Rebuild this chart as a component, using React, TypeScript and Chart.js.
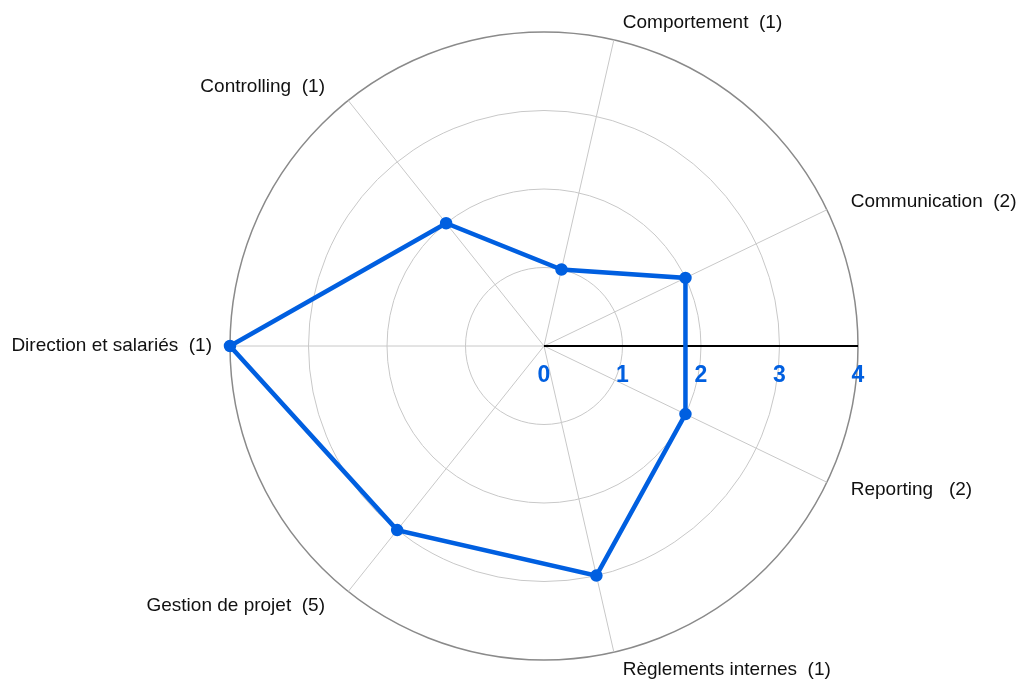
import React, { useEffect, useRef } from "react";
import { Chart, registerables } from "chart.js";

Chart.register(...registerables);

const categories = [
  "Direction et salariés  (1)",
  "Controlling  (1)",
  "Comportement  (1)",
  "Communication  (2)",
  "Reporting   (2)",
  "Règlements internes  (1)",
  "Gestion de projet  (5)",
];
const scores = [4, 2, 1, 2, 2, 3, 3];
const tickValues = [0, 1, 2, 3, 4];

const BLUE = "#005fe0";
const FONT = "'Liberation Sans', Arial, Helvetica, sans-serif";

const customPlugin = {
  id: "customRadar",
  beforeDatasetsDraw(chart: any) {
    const scale = chart.scales.r;
    const ctx = chart.ctx;
    const len = scale.getDistanceFromCenterForValue(tickValues[tickValues.length - 1]);
    ctx.save();
    ctx.strokeStyle = "#000000";
    ctx.lineWidth = 2;
    ctx.beginPath();
    ctx.moveTo(scale.xCenter, scale.yCenter);
    ctx.lineTo(scale.xCenter + len, scale.yCenter);
    ctx.stroke();
    ctx.restore();
  },
  afterDraw(chart: any) {
    const scale = chart.scales.r;
    const ctx = chart.ctx;
    ctx.save();
    ctx.fillStyle = BLUE;
    ctx.font = `bold 23px ${FONT}`;
    ctx.textAlign = "center";
    ctx.textBaseline = "middle";
    tickValues.forEach((v) => {
      const d = scale.getDistanceFromCenterForValue(v);
      ctx.fillText(String(v), scale.xCenter + d, scale.yCenter + 30);
    });
    ctx.fillStyle = "#111111";
    ctx.font = `19px ${FONT}`;
    const outer = scale.getDistanceFromCenterForValue(tickValues[tickValues.length - 1]);
    categories.forEach((label, i) => {
      const p = scale.getPointPosition(i, outer + 18);
      const dx = p.x - scale.xCenter;
      const c = Math.abs(dx) / (outer + 18);
      if (Math.abs(dx) < 1) {
        ctx.textAlign = "center";
        ctx.fillText(label, p.x, p.y);
      } else if (dx > 0) {
        ctx.textAlign = "left";
        ctx.fillText(label, p.x + 4 + c * 4, p.y);
      } else {
        ctx.textAlign = "right";
        ctx.fillText(label, p.x - (1 - c) * 32, p.y);
      }
    });
    ctx.restore();
  },
};

export default function App() {
  const ref = useRef<HTMLCanvasElement | null>(null);
  useEffect(() => {
    if (!ref.current) return;
    const chart = new Chart(ref.current, {
      type: "radar",
      data: {
        labels: categories,
        datasets: [
          {
            data: scores,
            borderColor: BLUE,
            backgroundColor: BLUE,
            borderWidth: 4.5,
            pointRadius: 4,
            pointBackgroundColor: BLUE,
            pointBorderColor: BLUE,
            fill: false,
            tension: 0,
          },
        ],
      },
      options: {
        responsive: false,
        animation: false,
        layout: { padding: { left: 230, right: 160, top: 32, bottom: 23 } },
        plugins: { legend: { display: false }, tooltip: { enabled: false } },
        scales: {
          r: {
            min: 0,
            max: 4,
            startAngle: 270,
            ticks: { display: false, stepSize: 1 },
            pointLabels: { display: false },
            angleLines: { color: "#c8c8c8", lineWidth: 1 },
            grid: {
              circular: true,
              color: (c: any) => (c.tick && c.tick.value === 4 ? "#8a8a8a" : "#c8c8c8"),
              lineWidth: (c: any) => (c.tick && c.tick.value === 4 ? 1.5 : 1),
            },
          },
        },
      },
      plugins: [customPlugin],
    });
    return () => chart.destroy();
  }, []);
  return (
    <canvas
      ref={ref}
      width={1018}
      height={683}
      style={{ position: "absolute", left: 0, top: 0, width: 1018, height: 683 }}
    />
  );
}
